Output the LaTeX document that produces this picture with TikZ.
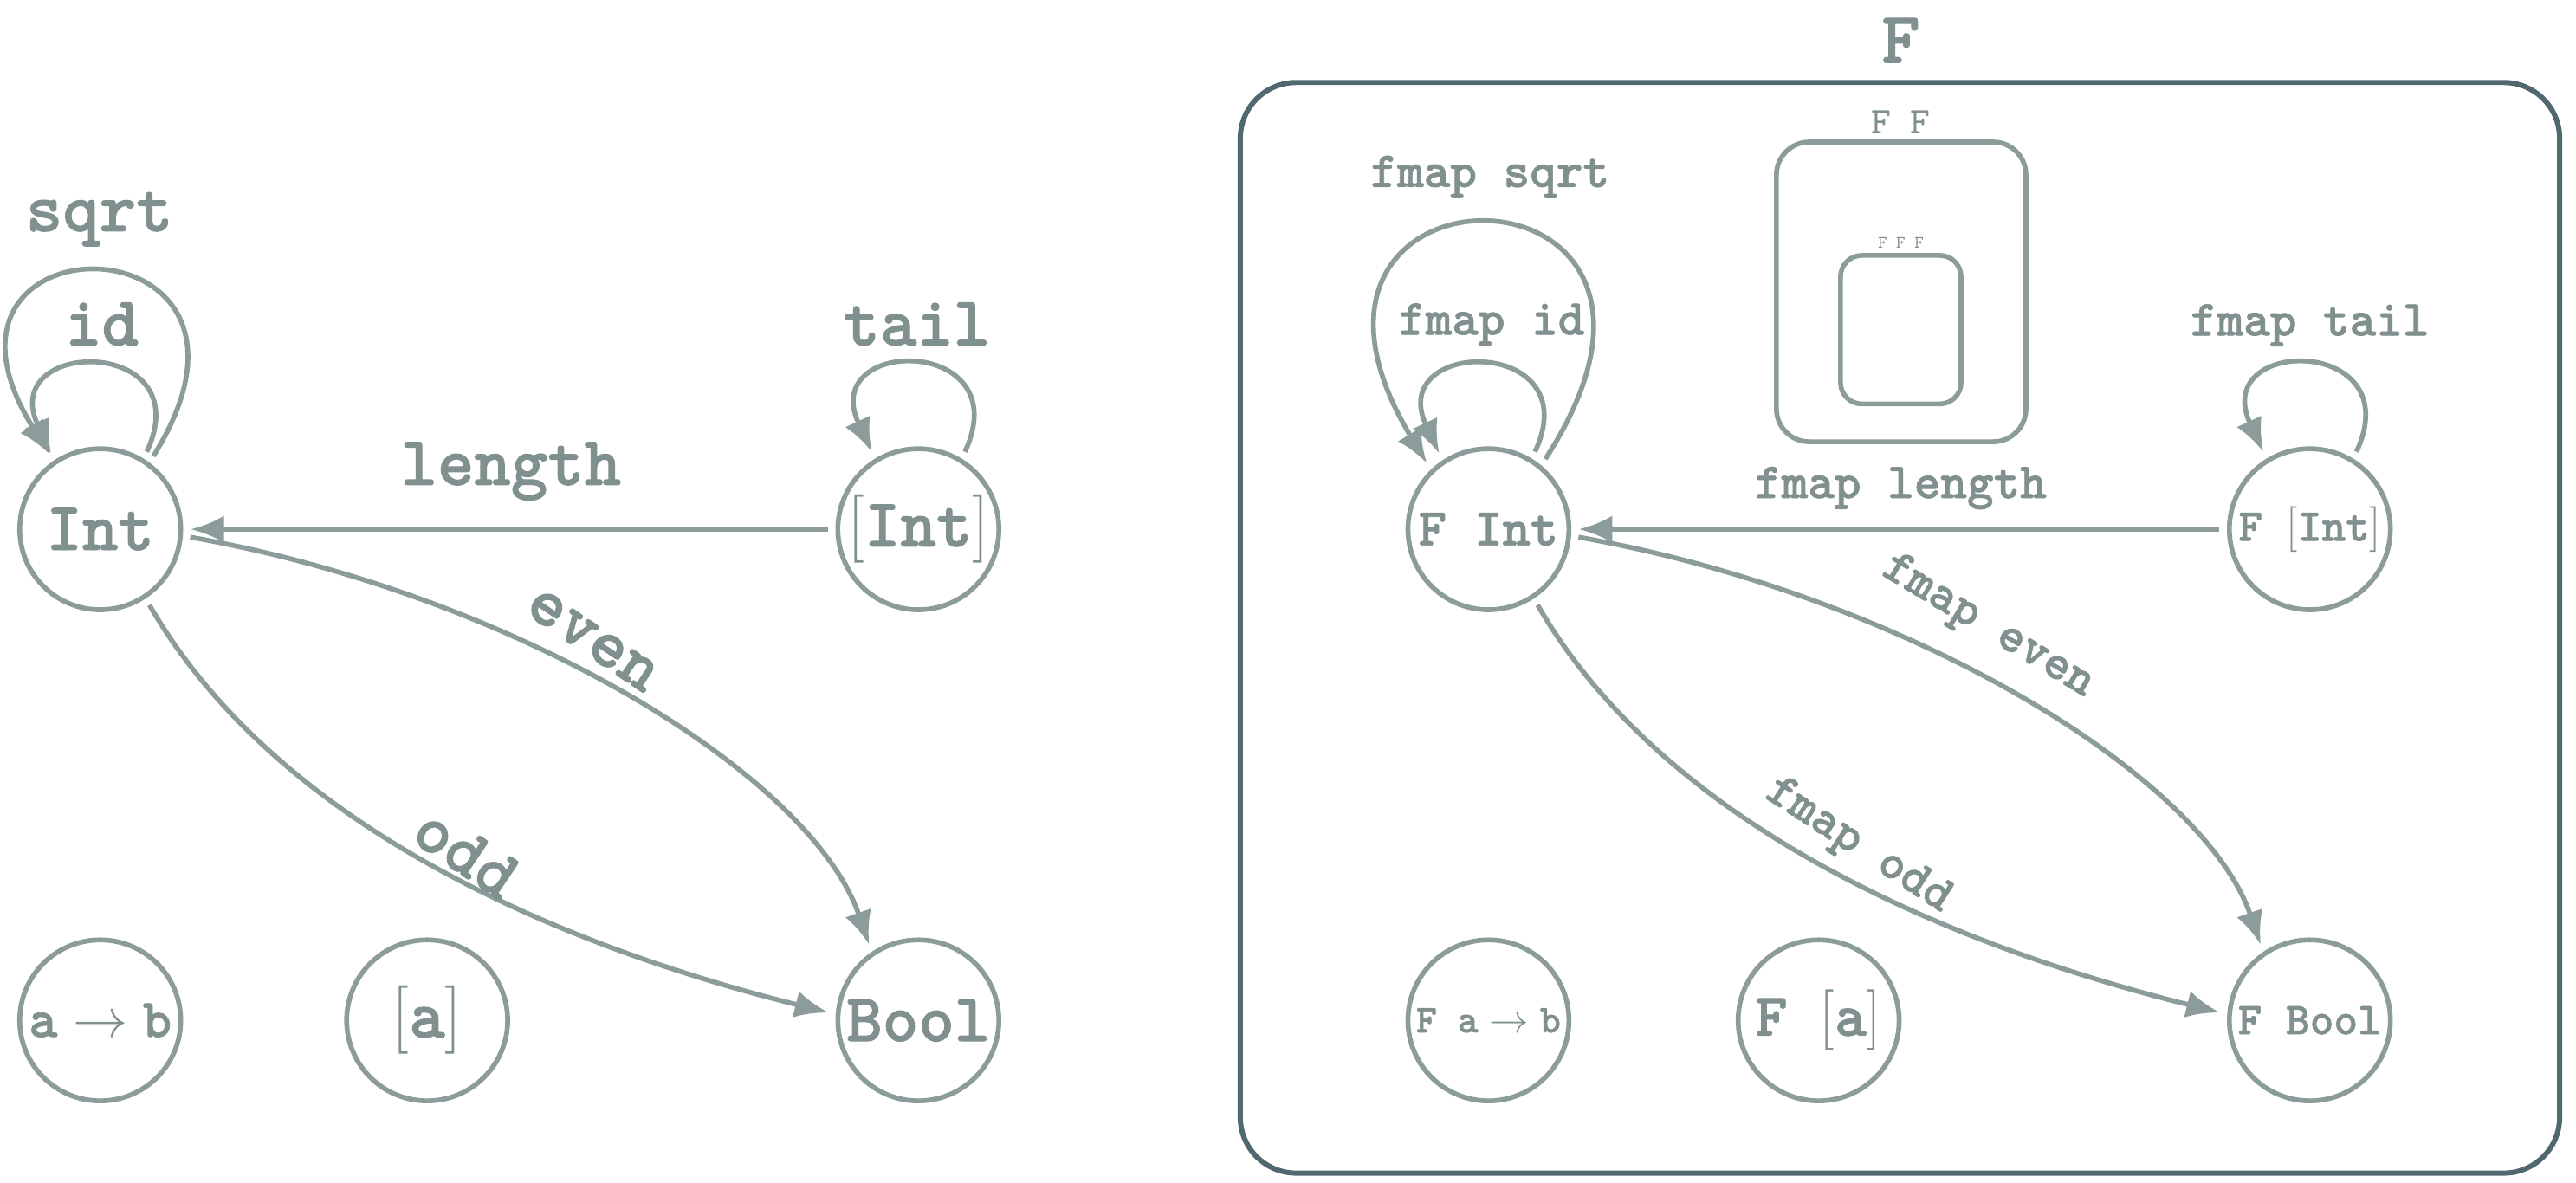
\RequirePackage{fix-cm}
\documentclass[tikz,border=0pt]{standalone}
\usepackage{fontspec}
\usetikzlibrary{arrows.meta}
\newfontfamily\hk{lmmonolt10-bold.otf}[FakeBold=1.2]
\newfontfamily\hkm{lmmono10-regular.otf}
\definecolor{ink}{RGB}{140,156,154}
\definecolor{inkt}{RGB}{128,144,142}
\definecolor{framec}{RGB}{80,104,110}
\newcommand{\fs}[1]{\fontsize{#1}{#1}\selectfont}
\newcommand{\lb}{{\rmfamily\mdseries[}}
\newcommand{\rb}{{\rmfamily\mdseries]}}
\begin{document}
\begin{tikzpicture}[x=0.5398pt,y=0.5398pt,
  obj/.style={circle,draw=ink,line width=1.6pt,minimum size=52.9pt,inner sep=0pt,outer sep=3.24pt,text=inkt},
  lab/.style={text=inkt,inner sep=0pt,anchor=base},
  rlab/.style={text=inkt,inner sep=0pt},
  arr/.style={draw=ink,line width=1.6pt,-{Latex[length=11pt,width=9pt]}},
  bigf/.style={font=\hk\fs{22.5}},
  labf/.style={font=\hk\fs{23}},
  smlf/.style={font=\hk\fs{16.6}},
  box/.style={draw=ink,line width=1.6pt,inner sep=0pt,outer sep=0pt}
]
\useasboundingbox (0,0) rectangle (1568,720.2);

% ---------- left diagram ----------
\node[obj,bigf] (Int) at (61,398) {Int};
\node[obj,bigf] (LInt) at (559,398) {\lb Int\rb};
\node[obj,bigf] (Bool) at (559,99) {Bool};
\node[obj,font=\hk\fs{18}] (AB) at (61,99) {a$\;\rightarrow\;$b};
\node[obj,bigf] (LA) at (260,99) {\lb a\rb};

\draw[arr] (LInt) -- (Int);
\draw[arr] (Int.-5) to[out=-10,in=109,out distance=107.96pt,in distance=59.4pt] (Bool.123);
\draw[arr] (Int.-57) to[out=-60,in=166,out distance=81pt,in distance=97.2pt] (Bool.175);
\draw[arr] (Int.54) to[out=58,in=122,distance=94.5pt] (Int.124);
\draw[arr] (Int.59) to[out=65,in=115,distance=42.1pt] (Int.123);
\draw[arr] (LInt.59) to[out=65,in=115,distance=42.1pt] (LInt.121);

\node[lab,labf] (Lsqrt) at (60.5,579.5) {sqrt};
\node[lab,labf] (Lid) at (62,510) {id};
\node[lab,labf] (Llength) at (311,425) {length};
\node[lab,labf] (Ltail) at (558,510) {tail};
\node[rlab,labf,rotate=-34] (Leven) at (360.5,330.5) {even};
\node[rlab,labf,rotate=-34] (Lodd) at (284,201) {odd};

% ---------- right diagram ----------
\node[draw=framec,line width=1.7pt,rounded corners=18.35pt,minimum width=433.5pt,minimum height=358.4pt,inner sep=0pt,outer sep=0pt] (Fbox) at (1156.5,338) {};
\node[box,rounded corners=10.8pt,minimum width=82pt,minimum height=98.5pt] (FFbox) at (1157.25,542.5) {};
\node[box,rounded corners=7pt,minimum width=39.6pt,minimum height=48.8pt] (FFFbox) at (1157,519.5) {};
\node[lab,font=\hk\fs{24}] (Ftitle) at (1157,682) {F};
\node[lab,font=\hkm\fs{12.4}] (FFlab) at (1157,639) {F F};
\node[lab,font=\hkm\fs{5.7}] (FFFlab) at (1157,569) {F F F};

\node[obj,font=\hk\fs{17.5}] (FInt) at (906,398) {F Int};
\node[obj,font=\hk\fs{15}] (FLInt) at (1406,398) {F \lb Int\rb};
\node[obj,font=\hk\fs{15}] (FBool) at (1406,99) {F Bool};
\node[obj,font=\hk\fs{13}] (FAB) at (906,99) {F a$\;\rightarrow\;$b};
\node[obj,font=\hk\fs{20}] (FLA) at (1107,99) {F \lb a\rb};

\draw[arr] (FLInt) -- (FInt);
\draw[arr] (FInt.-5) to[out=-10,in=109,out distance=107.96pt,in distance=59.4pt] (FBool.123);
\draw[arr] (FInt.-57) to[out=-60,in=166,out distance=81pt,in distance=97.2pt] (FBool.175);
\draw[arr] (FInt.51) to[out=57,in=121,distance=122.5pt] (FInt.133);
\draw[arr] (FInt.59) to[out=65,in=115,distance=42.1pt] (FInt.123);
\draw[arr] (FLInt.59) to[out=65,in=115,distance=42.1pt] (FLInt.121);

\node[lab,smlf] (Rsqrt) at (907,606.4) {fmap sqrt};
\node[lab,smlf] (Rid) at (908,516.5) {fmap id};
\node[lab,smlf] (Rlength) at (1157,417) {fmap length};
\node[lab,smlf] (Rtail) at (1406,516) {fmap tail};
\node[rlab,smlf,rotate=-31] (Reven) at (1210,338.5) {fmap even};
\node[rlab,smlf,rotate=-33] (Rodd) at (1131,205) {fmap odd};
\end{tikzpicture}
\end{document}
